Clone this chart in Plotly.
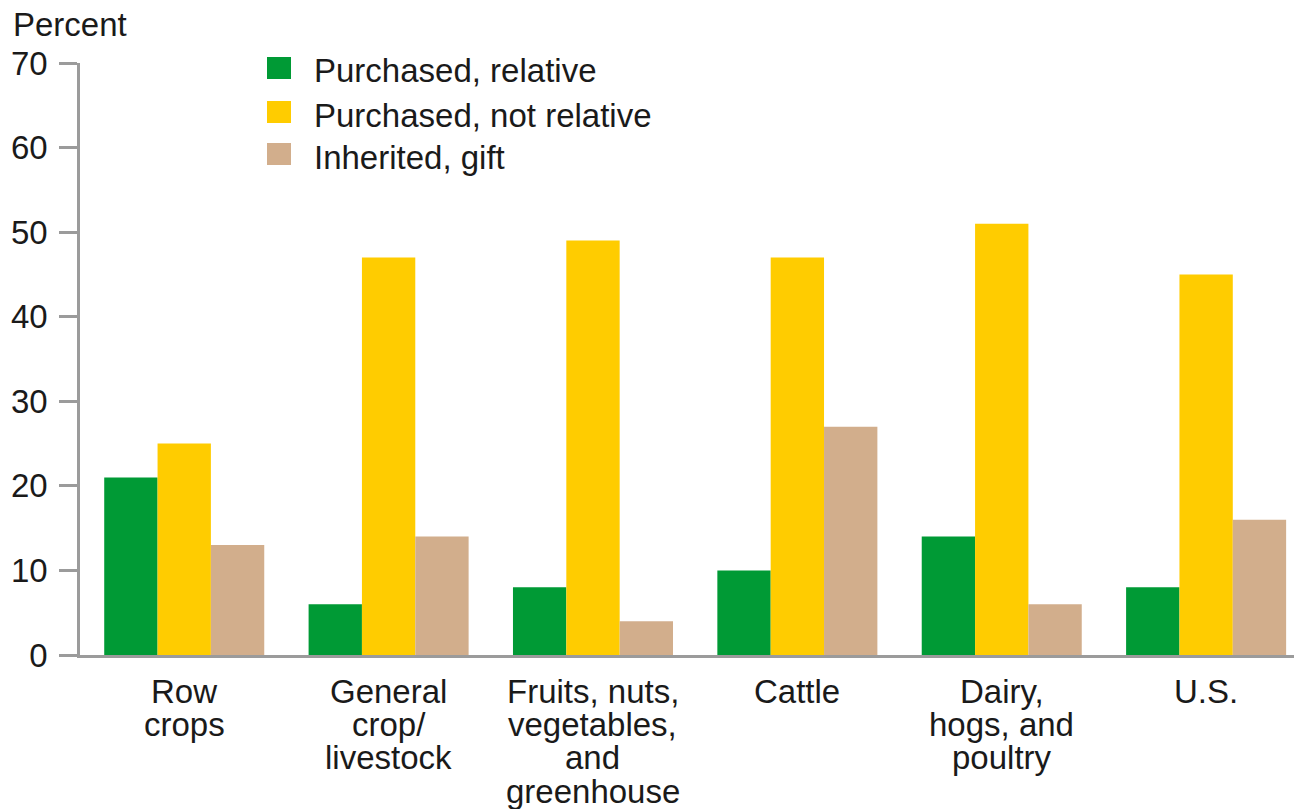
"""Grouped bar chart: how farmland was acquired, by farm type."""

import plotly.graph_objects as go

CATEGORIES = ["Row crops", "General crop/livestock", "Fruits, nuts, vegetables, and greenhouse",
              "Cattle", "Dairy, hogs, and poultry", "U.S."]
CATEGORY_LINES = [
    ["Row", "crops"],
    ["General", "crop/", "livestock"],
    ["Fruits, nuts,", "vegetables,", "and", "greenhouse"],
    ["Cattle"],
    ["Dairy,", "hogs, and", "poultry"],
    ["U.S."],
]
SERIES_NAMES = ["Purchased, relative", "Purchased, not relative", "Inherited, gift"]
PURCHASED_RELATIVE = [21, 6, 8, 10, 14, 8]
PURCHASED_NOT_RELATIVE = [25, 47, 49, 47, 51, 45]
INHERITED_GIFT = [13, 14, 4, 27, 6, 16]
Y_TICKS = [0, 10, 20, 30, 40, 50, 60, 70]

COLORS = ["#009a35", "#ffcc00", "#d2ae8c"]
AXIS = "#9b9b9b"
INK = "#1a1a1a"
FONT = "Liberation Sans, Arial, sans-serif"
FONT_SIZE = 33

# plot area in pixels (figure is 1294 x 809)
FIG_W, FIG_H = 1294, 809
L, T, R = 80, 63, 1294
PLOT_W = R - L
PLOT_H = 655 - T


def px_x(px):
    return (px - L) / PLOT_W


def px_y(py):
    return (T + PLOT_H - py) / PLOT_H


fig = go.Figure()
for name, values, color in zip(SERIES_NAMES,
                               [PURCHASED_RELATIVE, PURCHASED_NOT_RELATIVE, INHERITED_GIFT],
                               COLORS):
    fig.add_trace(go.Bar(x=CATEGORIES, y=values, name=name,
                         marker={"color": color, "line": {"width": 0}},
                         showlegend=False))

# category labels, one annotation per line for tight line spacing
for cat, lines in zip(CATEGORIES, CATEGORY_LINES):
    for i, text in enumerate(lines):
        fig.add_annotation(x=cat, y=0, xref="x", yref="y", text=text,
                           showarrow=False, xanchor="center", yanchor="middle",
                           yshift=-(36 + i * 33.4),
                           font={"family": FONT, "size": FONT_SIZE, "color": INK})

# hand-drawn legend with large swatches
legend_rows = [68, 112, 154]
for name, color, cy in zip(SERIES_NAMES, COLORS, legend_rows):
    fig.add_shape(type="rect", xref="paper", yref="paper",
                  x0=px_x(267), x1=px_x(291), y0=px_y(cy + 11), y1=px_y(cy - 11),
                  fillcolor=color, line={"width": 0})
    fig.add_annotation(xref="paper", yref="paper", x=px_x(312), y=px_y(cy + 3),
                       text=name, showarrow=False, xanchor="left", yanchor="middle",
                       font={"family": FONT, "size": FONT_SIZE, "color": INK})

fig.add_annotation(xref="paper", yref="paper", x=px_x(11), y=px_y(25),
                   text="Percent", showarrow=False, xanchor="left", yanchor="middle",
                   font={"family": FONT, "size": FONT_SIZE, "color": INK})

fig.update_layout(
    width=FIG_W, height=FIG_H,
    margin={"l": L, "r": FIG_W - R, "t": T, "b": FIG_H - T - PLOT_H, "pad": 0},
    plot_bgcolor="white", paper_bgcolor="white",
    barmode="group", bargap=0.217, bargroupgap=0,
    showlegend=False,
    font={"family": FONT, "size": FONT_SIZE, "color": INK},
    xaxis={"range": [-0.51, 5.43], "showticklabels": False, "ticks": "",
           "showline": True, "linecolor": AXIS, "linewidth": 2.5,
           "showgrid": False, "zeroline": False, "fixedrange": True},
    yaxis={"range": [0, 70], "tickvals": Y_TICKS, "ticks": "outside",
           "ticklen": 18, "tickwidth": 2.5, "tickcolor": AXIS,
           "showline": True, "linecolor": AXIS, "linewidth": 2.5,
           "showgrid": False, "zeroline": False, "ticklabelstandoff": 5,
           "tickfont": {"family": FONT, "size": FONT_SIZE, "color": INK}},
)

# drop the default body margin so the figure sits flush in the window
fig.write_html("out.html",
               config={"displayModeBar": False},
               post_script="document.body.style.margin='0';"
                           "document.body.style.overflow='hidden';")
